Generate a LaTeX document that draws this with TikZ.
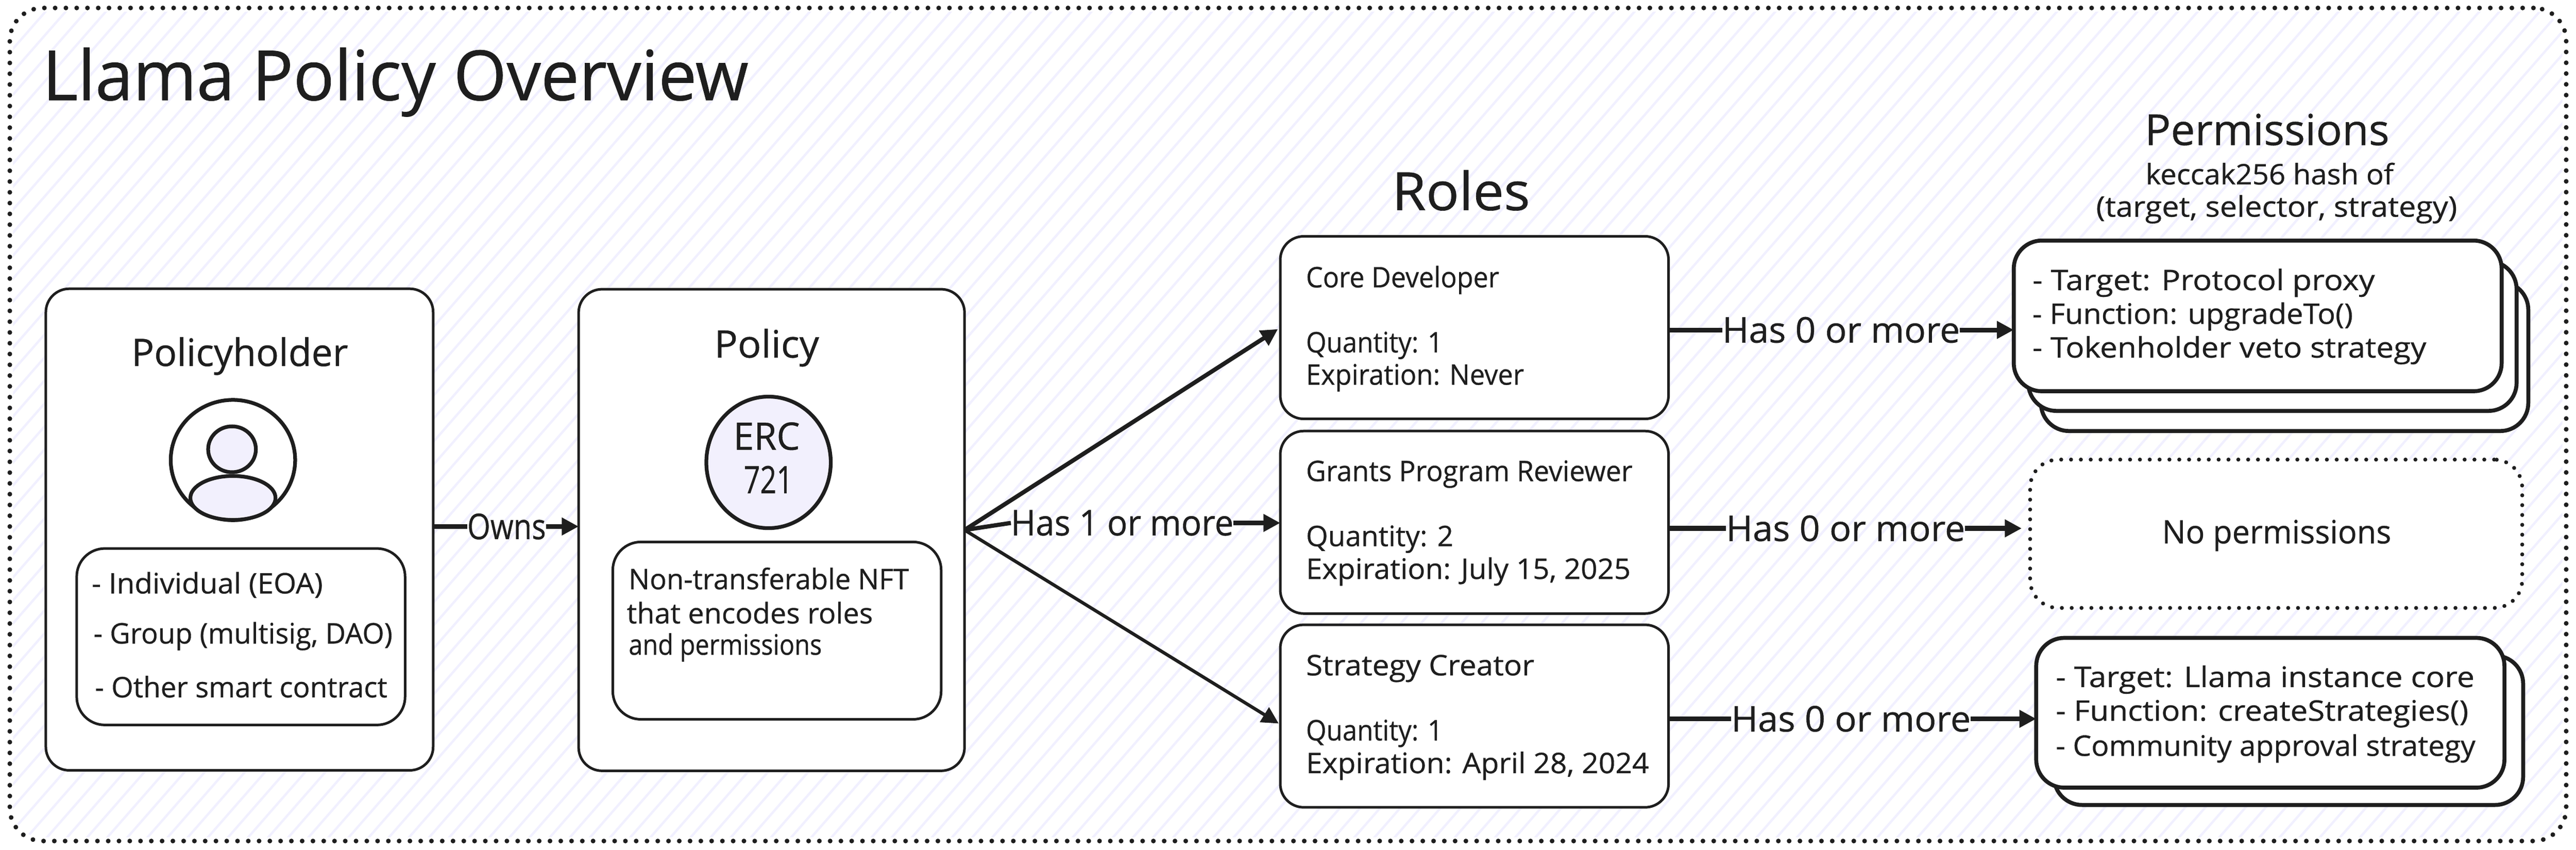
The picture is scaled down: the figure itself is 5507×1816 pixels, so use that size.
\documentclass[tikz,border=0pt]{standalone}
\usepackage{fontspec}
\usepackage{graphicx}
\setmainfont{Open Sans}[FakeBold=0.6]
\usetikzlibrary{arrows.meta,shapes.geometric,calc}
\definecolor{ink}{HTML}{1E1E1E}
\definecolor{hatch}{HTML}{F1F0FF}
\definecolor{lav}{HTML}{F2F0FD}
\newlength\pxu
\setlength\pxu{0.01cm}
\newcommand\fitw[2]{\resizebox{#1\pxu}{\height}{#2}}
\tikzset{
  box/.style={draw=ink,fill=white,rectangle,rounded corners=0.5cm,line width=5.5\pxu,inner sep=0pt,outer sep=0pt},
  thickbox/.style={box,line width=8.5\pxu,rounded corners=0.6cm},
  dotbox/.style={box,fill=none,line cap=round,line width=8.5\pxu,dash pattern=on 0.01pt off 21\pxu,rounded corners=0.6cm},
  round/.style={draw=ink,ellipse,line width=8\pxu,inner sep=0pt,outer sep=0pt},
  wire/.style={draw=ink,line width=10\pxu},
  tipped/.style={wire,-{Triangle[length=0.36cm,width=0.36cm]}},
  txt/.style={text=ink,anchor=base west,inner sep=0pt,outer sep=0pt},
  txS/.style={txt,font=\fontsize{17.2}{21}\selectfont},
  txL/.style={txt,font=\fontsize{21.5}{26}\selectfont},
  txH/.style={txt,font=\fontsize{23}{27}\selectfont},
  txN/.style={txt,font=\fontsize{19.5}{23}\selectfont},
  txP/.style={txt,font=\fontsize{26}{31}\selectfont},
  txR/.style={txt,font=\fontsize{32}{38}\selectfont},
  txT/.style={txt,font=\fontsize{42}{50}\selectfont},
}
\begin{document}
\begin{tikzpicture}[x=0.01cm,y=-0.01cm]
\useasboundingbox (0,0) rectangle (5507,1816);
\fill[white] (0,0) rectangle (5507,1816);
% hatched background
\begin{scope}
  \clip[rounded corners=0.6cm] (28,25) rectangle (5478,1789);
  \foreach \hx in {-1600,-1557,...,5500} {
    \draw[hatch,line width=5\pxu] (\hx,1816) -- ++(1590,-1816);
  }
\end{scope}
% frame
\node[dotbox,line width=10\pxu,dash pattern=on 0.01pt off 23\pxu,rounded corners=0.7cm,minimum width=5465\pxu,minimum height=1780\pxu] (frame) at (2753.5,907) {};
% title
\node[txT] (title) at (91,214) {\fitw{1509}{Llama Policy Overview}};
% policyholder
\node[box,minimum width=828\pxu,minimum height=1029\pxu] (holder) at (512,1131.5) {};
\node[txH] (holdertitle) at (281,782) {\fitw{463}{Policyholder}};
\node[round,fill=white,minimum width=266\pxu,minimum height=257\pxu] (avatar) at (498,983) {};
\node[round,fill=lav,minimum width=102\pxu,minimum height=98\pxu] (head) at (496,960) {};
\node[round,fill=lav,minimum width=182\pxu,minimum height=94\pxu] (body) at (498,1064) {};
\node[box,minimum width=702\pxu,minimum height=377\pxu,rounded corners=0.6cm] (holderlist) at (515,1360.5) {};
\node[txS] (h1) at (196,1268) {\fitw{494}{- Individual (EOA)}};
\node[txS] (h2) at (200,1375) {\fitw{639}{- Group (multisig, DAO)}};
\node[txS] (h3) at (203,1490) {\fitw{625}{- Other smart contract}};
% policy
\node[box,minimum width=825\pxu,minimum height=1029\pxu] (policy) at (1649.5,1132.5) {};
\node[txH] (policytitle) at (1527,764) {\fitw{224}{Policy}};
\node[round,fill=lav,minimum width=266\pxu,minimum height=281\pxu] (erc) at (1643,988) {};
\node[txH] (erc1) at (1568,961) {\fitw{142}{ERC}};
\node[txH] (erc2) at (1590,1054) {\fitw{105}{721}};
\node[box,minimum width=702\pxu,minimum height=379\pxu,rounded corners=0.6cm] (policydesc) at (1661,1347.5) {};
\node[txS] (p1) at (1344,1259) {\fitw{599}{Non-transferable NFT}};
\node[txS] (p2) at (1340,1332) {\fitw{526}{that encodes roles}};
\node[txS] (p3) at (1344,1399) {\fitw{413}{and permissions}};
% roles
\node[txR] (rolestitle) at (2976,449) {\fitw{295}{Roles}};
\node[box,minimum width=830\pxu,minimum height=390\pxu] (core) at (3152,700) {};
\node[box,minimum width=830\pxu,minimum height=390\pxu] (grants) at (3152,1116) {};
\node[box,minimum width=830\pxu,minimum height=390\pxu] (strategy) at (3152,1530) {};
\node[txS] (c1) at (2792,614) {\fitw{413}{Core Developer}};
\node[txS] (c2) at (2792,753) {\fitw{292}{Quantity: 1}};
\node[txS] (c3) at (2792,822) {\fitw{466}{Expiration: Never}};
\node[txS] (g1) at (2792,1028) {\fitw{698}{Grants Program Reviewer}};
\node[txS] (g2) at (2792,1167) {\fitw{315}{Quantity: 2}};
\node[txS] (g3) at (2792,1237) {\fitw{694}{Expiration: July 15, 2025}};
\node[txS] (s1) at (2792,1443) {\fitw{488}{Strategy Creator}};
\node[txS] (s2) at (2792,1582) {\fitw{292}{Quantity: 1}};
\node[txS] (s3) at (2792,1652) {\fitw{733}{Expiration: April 28, 2024}};
% permissions
\node[txP] (permtitle) at (4585,310) {\fitw{523}{Permissions}};
\node[txS] (permsubA) at (4587,394) {\fitw{530}{keccak256 hash of}};
\node[txS] (permsubB) at (4481,463) {\fitw{772}{(target, selector, strategy)}};
\node[thickbox,minimum width=1042\pxu,minimum height=319\pxu] (permc) at (4884,761.5) {};
\node[thickbox,minimum width=1044\pxu,minimum height=320\pxu] (permb) at (4858,718) {};
\node[thickbox,minimum width=1043\pxu,minimum height=322\pxu] (perma) at (4826.5,675) {};
\node[txS] (a1) at (4345,620) {\fitw{732}{- Target: Protocol proxy}};
\node[txS] (a2) at (4345,692) {\fitw{685}{- Function: upgradeTo()}};
\node[txS] (a3) at (4345,764) {\fitw{842}{- Tokenholder veto strategy}};
\node[dotbox,fill=white,minimum width=1052\pxu,minimum height=317\pxu] (noperm) at (4866,1140.5) {};
\node[txN] (nopermtext) at (4622,1161) {\fitw{490}{No permissions}};
\node[thickbox,minimum width=1003\pxu,minimum height=319\pxu] (permd) at (4892.5,1560.5) {};
\node[thickbox,minimum width=1001\pxu,minimum height=320\pxu] (perme) at (4853.5,1523) {};
\node[txS] (e1) at (4395,1468) {\fitw{895}{- Target: Llama instance core}};
\node[txS] (e2) at (4395,1540) {\fitw{882}{- Function: createStrategies()}};
\node[txS] (e3) at (4395,1615) {\fitw{897}{- Community approval strategy}};
% connector labels
\node[txL] (owns) at (999,1152) {\fitw{168}{Owns}};
\node[txL] (has1) at (2161,1144) {\fitw{476}{Has 1 or more}};
\node[txL] (hasa) at (3682,732) {\fitw{508}{Has 0 or more}};
\node[txL] (hasb) at (3690,1156) {\fitw{511}{Has 0 or more}};
\node[txL] (hasc) at (3701,1563) {\fitw{512}{Has 0 or more}};
% connectors
\draw[wire] (holder.east |- owns.west) -- (owns.west);
\draw[tipped] (owns.east) -- (policy.west |- owns.east);
\draw[tipped,line width=9\pxu,shorten >=6\pxu] (policy.east) -- (core.west);
\draw[wire,line width=9\pxu] (policy.east) -- (has1.west);
\draw[tipped] (has1.east) -- (grants.west |- has1.east);
\draw[tipped,line width=7\pxu,shorten >=4\pxu] (policy.east) -- ($(strategy.west)+(0,18)$);
\draw[wire] (core.east |- hasa.west) -- (hasa.west);
\draw[tipped] (hasa.east) -- (perma.west |- hasa.east);
\draw[wire] (grants.east |- hasb.west) -- (hasb.west);
\draw[tipped,shorten >=18\pxu] (hasb.east) -- (noperm.west |- hasb.east);
\draw[wire] (strategy.east |- hasc.west) -- (hasc.west);
\draw[tipped] (hasc.east) -- (perme.west |- hasc.east);
\end{tikzpicture}
\end{document}
